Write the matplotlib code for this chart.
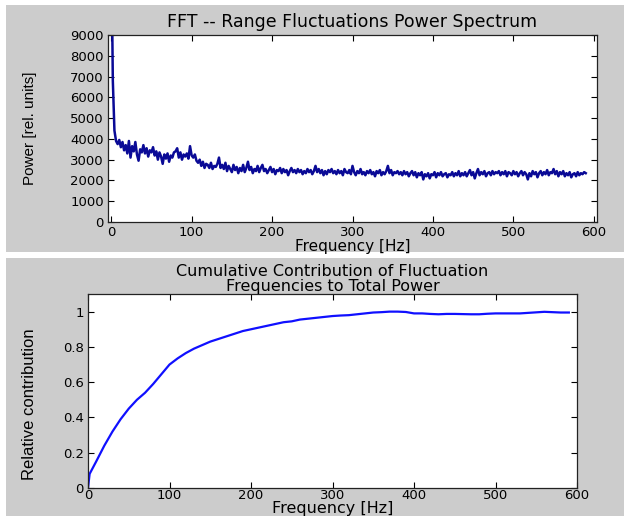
import numpy as np
import matplotlib
matplotlib.use("Agg")
import matplotlib.pyplot as plt
from matplotlib.patches import Rectangle

# power spectrum, one value every 2 Hz starting at 0 Hz
power = [
    14000, 6800, 4400, 3900, 3750, 3950, 3600, 3850, 3450, 3700, 3300, 3900, 3100, 3650, 3400, 3850, 3250, 2950, 3500, 3350,
    3700, 3300, 3550, 3150, 3450, 3350, 3600, 3200, 3400, 3000, 3350, 3150, 2800, 3250, 3050, 3300, 2900, 3200, 3100, 3350,
    3400, 3550, 3100, 3350, 3000, 3250, 3150, 3300, 3050, 3650, 3200, 3100, 3250, 2950, 2850, 3000, 2700, 2900, 2600, 2800,
    2750, 2600, 2850, 2550, 2700, 2650, 2800, 3100, 2600, 2750, 2550, 2850, 2450, 2700, 2550, 2400, 2750, 2500, 2650, 2350,
    2600, 2450, 2750, 2400, 2600, 2900, 2500, 2650, 2350, 2550, 2450, 2700, 2400, 2600, 2750, 2450, 2550, 2350, 2500, 2650,
    2400, 2550, 2300, 2500, 2450, 2600, 2350, 2550, 2400, 2500, 2250, 2450, 2600, 2400, 2500, 2350, 2550, 2400, 2500, 2300,
    2450, 2350, 2550, 2400, 2500, 2300, 2450, 2700, 2400, 2550, 2350, 2500, 2250, 2450, 2300, 2500, 2400, 2550, 2350, 2450,
    2300, 2500, 2350, 2450, 2250, 2550, 2400, 2350, 2500, 2300, 2700, 2400, 2250, 2450, 2350, 2550, 2300, 2400, 2250, 2450,
    2350, 2500, 2300, 2400, 2200, 2450, 2350, 2500, 2250, 2400, 2300, 2450, 2700, 2350, 2500, 2250, 2400, 2350, 2450, 2300,
    2400, 2250, 2450, 2300, 2400, 2200, 2350, 2450, 2250, 2400, 2150, 2350, 2250, 2400, 2050, 2300, 2200, 2350, 2100, 2300,
    2250, 2400, 2150, 2350, 2250, 2400, 2200, 2300, 2350, 2150, 2300, 2250, 2400, 2200, 2350, 2250, 2450, 2200, 2350, 2250,
    2400, 2200, 2350, 2500, 2250, 2400, 2100, 2350, 2550, 2250, 2400, 2300, 2450, 2200, 2350, 2400, 2250, 2450, 2300, 2400,
    2350, 2450, 2250, 2400, 2300, 2450, 2200, 2400, 2350, 2250, 2450, 2300, 2400, 2200, 2350, 2450, 2250, 2400, 2300, 2050,
    2350, 2200, 2450, 2300, 2400, 2150, 2350, 2450, 2250, 2400, 2300, 2500, 2250, 2400, 2350, 2550, 2300, 2450, 2200, 2400,
    2300, 2450, 2200, 2350, 2250, 2400, 2150, 2300, 2350, 2200, 2400, 2250, 2350, 2300, 2400, 2350,
]
freq = np.arange(len(power)) * 2

# cumulative contribution, read every 10 Hz
cum_freq = [0, 2, 10, 20, 30, 40, 50, 60, 70, 80, 90, 100, 110, 120, 130, 140, 150, 160, 170, 180, 190,
            200, 210, 220, 230, 240, 250, 260, 270, 280, 290, 300, 310, 320, 330, 340, 350, 360, 370, 380,
            390, 400, 410, 420, 430, 440, 450, 460, 470, 480, 490, 500, 510, 520, 530, 540, 550, 560, 570,
            580, 590]
cum_val = [0.0, 0.08, 0.15, 0.24, 0.32, 0.39, 0.45, 0.50, 0.54, 0.59, 0.645, 0.70, 0.735, 0.765, 0.79,
           0.81, 0.83, 0.845, 0.86, 0.875, 0.89, 0.90, 0.91, 0.92, 0.93, 0.94, 0.945, 0.955, 0.96, 0.965,
           0.97, 0.975, 0.978, 0.98, 0.985, 0.99, 0.995, 0.997, 1.0, 1.0, 0.998, 0.99, 0.99, 0.987, 0.985,
           0.987, 0.987, 0.986, 0.985, 0.985, 0.988, 0.99, 0.99, 0.99, 0.99, 0.993, 0.996, 0.999, 0.997,
           0.995, 0.995]

W, H = 624, 516
fig = plt.figure(figsize=(W / 100, H / 100), dpi=100)
fig.patch.set_facecolor("white")

gray = "#cccccc"
fig.patches.append(Rectangle((6 / W, 1 - 252 / H), 1, 247 / H, transform=fig.transFigure,
                             facecolor=gray, edgecolor="none", zorder=-10))
fig.patches.append(Rectangle((6 / W, 0), 1, 258 / H, transform=fig.transFigure,
                             facecolor=gray, edgecolor="none", zorder=-10))


def style(ax):
    ax.set_facecolor("white")
    ax.tick_params(direction="in", top=True, right=True, length=4, width=0.8,
                   labelsize=9.5, pad=3)
    for lab in ax.get_xticklabels() + ax.get_yticklabels():
        lab.set_family("DejaVu Sans")
    for s in ax.spines.values():
        s.set_linewidth(0.9)
        s.set_color("#222222")


# top panel
ax1 = fig.add_axes([108 / W, 1 - 222 / H, 489 / W, 187 / H])
ax1.plot(freq, power, color="#0a0a96", linewidth=1.8)
ax1.set_xlim(-4, 604)
ax1.set_ylim(0, 9000)
ax1.set_xticks([0, 100, 200, 300, 400, 500, 600])
ax1.set_yticks(range(0, 9001, 1000))
style(ax1)
ax1.set_title("FFT -- Range Fluctuations Power Spectrum", family="DejaVu Sans", fontsize=12.5, pad=6)
ax1.set_xlabel("Frequency [Hz]", family="DejaVu Sans", fontsize=11, labelpad=0)
ax1.set_ylabel("Power [rel. units]", family="Liberation Sans", fontsize=11)
ax1.yaxis.set_label_coords(-0.145, 0.5)

# bottom panel
ax2 = fig.add_axes([88 / W, 1 - 488 / H, 489 / W, 194 / H])
ax2.plot(cum_freq, cum_val, color="#1010ff", linewidth=1.6)
ax2.set_xlim(0, 600)
ax2.set_ylim(0, 1.1)
ax2.set_xticks([0, 100, 200, 300, 400, 500, 600])
ax2.set_yticks([0, 0.2, 0.4, 0.6, 0.8, 1])
ax2.set_yticklabels(["0", "0.2", "0.4", "0.6", "0.8", "1"])
style(ax2)
ax2.tick_params(axis="x", pad=1)
ax2.set_title("Cumulative Contribution of Fluctuation\nFrequencies to Total Power",
              family="DejaVu Sans", fontsize=11.5, pad=2, linespacing=1.0)
ax2.set_xlabel("Frequency [Hz]", family="DejaVu Sans", fontsize=11.5, labelpad=-1)
ax2.set_ylabel("Relative contribution", family="Liberation Sans", fontsize=12)
ax2.yaxis.set_label_coords(-0.105, 0.43)

fig.savefig("out.png", dpi=100)
